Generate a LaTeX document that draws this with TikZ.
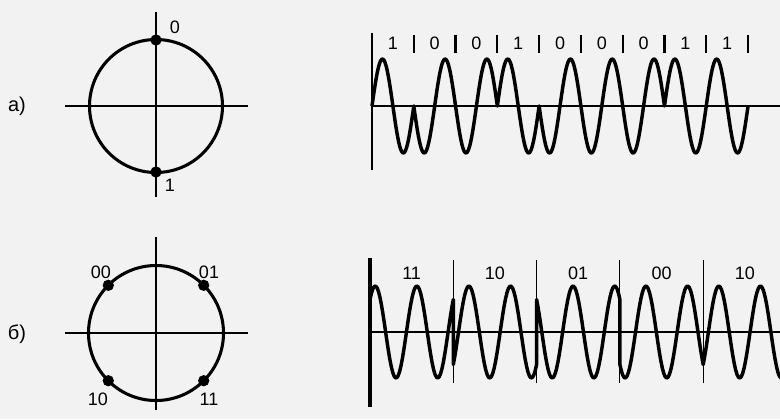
\documentclass[tikz,border=0pt]{standalone}
\usepackage{fontspec}
\setmainfont{Liberation Sans}
\begin{document}
\begin{tikzpicture}[x=0.75pt,y=-0.75pt,
  axis/.style={line width=1.8pt},
  ring/.style={line width=2.3pt},
  wave/.style={line width=2.6pt, line join=round},
  dot/.style={circle, fill, inner sep=0pt, minimum size=8.5pt},
  lbl/.style={font=\fontsize{13.5}{15}\selectfont, inner sep=0pt},
  tag/.style={font=\fontsize{15}{18}\selectfont, inner sep=0pt}]
\fill[black!5] (0,0) rectangle (780,419);
\useasboundingbox (0,0) rectangle (780,419);
% a) two phases
\node[tag] (taga) at (17,106) {a)};
\coordinate (ca) at (156,106);
\draw[axis] (65,106) -- (248,106);
\draw[axis] (156,12) -- (156,197);
\draw[ring] (ca) circle[radius=66.5];
\node[dot] (d0) at (156,40) {};
\node[dot] (d1) at (156,172) {};
\node[lbl] (l0) at (175,27) {0};
\node[lbl] (l1) at (170,185) {1};
% a) signal
\draw[axis, line width=2.2pt] (372,33) -- (372,170);
\draw[axis, line width=1.5pt] (372,106) -- (780,106);
\draw[wave] (372,106) \foreach \b [count=\k from 0] in {1,0,0,1,0,0,0,1,1} {
  -- plot[domain=0:41.78, samples=40] ({372+41.78*\k+\x}, {106-47*(2*\b-1)*sin(8.6166*\x)}) };
\foreach \b [count=\k from 0] in {1,0,0,1,0,0,0,1,1} {
  \node[lbl] (bit\k) at ({372+41.78*\k+20.9},43) {\b};
  \draw[line width=1.7pt] ({372+41.78*(\k+1)},35) -- ({372+41.78*(\k+1)},53);
}
% b) four phases
\node[tag] (tagb) at (17,334) {б)};
\coordinate (cb) at (156,333);
\draw[axis] (65,333) -- (248,333);
\draw[axis] (156,237) -- (156,410);
\draw[ring] (cb) circle[radius=67.5];
\node[dot] (d00) at (108.3,285.3) {};
\node[dot] (d01) at (203.7,285.3) {};
\node[dot] (d10) at (108.3,380.7) {};
\node[dot] (d11) at (203.7,380.7) {};
\node[lbl] (l00) at (101,272) {00};
\node[lbl] (l01) at (209,272) {01};
\node[lbl] (l10) at (98,399) {10};
\node[lbl] (l11) at (209,399) {11};
% b) signal
\draw[axis, line width=2.4pt] (370,258) -- (370,407);
\draw[axis, line width=1.5pt] (370,332) -- (780,332);
\begin{scope}
\clip (370,200) rectangle (780,419);
\draw[wave] (370,{332-46*cos(-45)}) \foreach \ph [count=\k from 0] in {-45,225,45,135,225} {
  -- plot[domain=0:83.3, samples=60] ({370+83.3*\k+\x}, {332-46*cos(8.6435*\x+\ph)}) };
\end{scope}
\foreach \s [count=\k from 0] in {11,10,01,00,10}
  \node[lbl] (sym\k) at ({411.6+83.3*\k},273) {\s};
\foreach \k in {1,...,4}
  \draw[line width=0.8pt] ({370+83.3*\k},260) -- ({370+83.3*\k},383);
\end{tikzpicture}
\end{document}
